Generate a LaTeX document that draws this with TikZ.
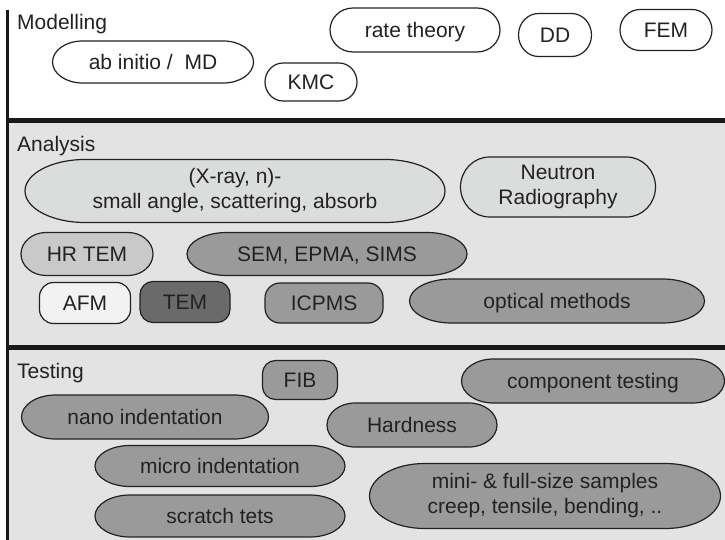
\documentclass[tikz,border=0pt]{standalone}
\usepackage{fontspec}
\setmainfont{Liberation Sans}
\begin{document}
\definecolor{ink}{HTML}{222222}
\definecolor{panel}{HTML}{E3E3E3}
\definecolor{pale}{HTML}{DBDCDC}
\definecolor{lightgrey}{HTML}{C9C9C9}
\definecolor{midgrey}{HTML}{9A9A9A}
\definecolor{darkgrey}{HTML}{6A6A6A}
\definecolor{offwhite}{HTML}{F2F2F2}
% #1 name, #2 cx, #3 cy, #4 width, #5 height, #6 end radius, #7 fill, #8 text
\newcommand{\bubble}[8]{%
  \filldraw[outline, fill=#7]
    ({#2-#4/2+#6},{#3-#5/2}) -- ({#2+#4/2-#6},{#3-#5/2})
    arc[start angle=-90, end angle=90, x radius={#6}, y radius={#5/2}]
    -- ({#2-#4/2+#6},{#3+#5/2})
    arc[start angle=90, end angle=270, x radius={#6}, y radius={#5/2}]
    -- cycle;
  \node[itemtext] (#1) at (#2,#3) {#8};}
% rounded box: #1 name, #2 cx, #3 cy, #4 width, #5 height, #6 corner, #7 fill, #8 text
\newcommand{\rbox}[8]{%
  \filldraw[outline, fill=#7, rounded corners=#6pt]
    ({#2-#4/2},{#3-#5/2}) rectangle ({#2+#4/2},{#3+#5/2});
  \node[itemtext] (#1) at (#2,#3) {#8};}
% two-line label inside a bubble
\newcommand{\bubbletwo}[8]{%
  \filldraw[outline, fill=#7]
    ({#2-#4/2+#6},{#3-#5/2}) -- ({#2+#4/2-#6},{#3-#5/2})
    arc[start angle=-90, end angle=90, x radius={#6}, y radius={#5/2}]
    -- ({#2-#4/2+#6},{#3+#5/2})
    arc[start angle=90, end angle=270, x radius={#6}, y radius={#5/2}]
    -- cycle;
  \node[twotext] (#1) at (#2,#3) {#8};}
\begin{tikzpicture}[x=1pt, y=-1pt,
  outline/.style={draw=ink, line width=1.2pt},
  itemtext/.style={text=ink, font=\fontsize{21}{25}\selectfont, inner sep=0pt,
    text height=15pt, text depth=0pt, anchor=center},
  twotext/.style={text=ink, font=\fontsize{21}{25}\selectfont, inner sep=0pt,
    align=center, anchor=center},
  heading/.style={text=ink, font=\fontsize{21}{25}\selectfont, inner sep=0pt, anchor=base west},
  divider/.style={draw=black!90, line width=5pt},
  spine/.style={draw=black!90, line width=3.5pt}]
\useasboundingbox (0,0) rectangle (725,540);
% section panels
\fill[white] (0,0) rectangle (725,121);
\fill[panel] (8,121) rectangle (725,347);
\fill[panel] (8,347) rectangle (725,540);
\draw[divider] (8,121) -- (725,121);
\draw[divider] (8,347) -- (725,347);
\draw[spine] (7.5,10) -- (7.5,540);
% section headings
\node[heading] (hmod) at (17,30) {Modelling};
\node[heading] (hana) at (17,152) {Analysis};
\node[heading] (htest) at (17,378) {Testing};
% Modelling
\bubble{abinitio}{153}{62}{201}{42}{30}{white}{ab initio /\ \ MD}
\bubble{kmc}{311}{82}{92}{38}{18}{white}{KMC}
\bubble{rate}{415}{30}{170}{44}{23}{white}{rate theory}
\bubble{dd}{555}{35}{73}{43}{20}{white}{DD}
\bubble{fem}{666}{30}{92}{41}{20}{white}{FEM}
% Analysis
\bubbletwo{xray}{235}{191}{420}{63}{60}{pale}{(X-ray, n)-\\small angle, scattering, absorb}
\bubbletwo{neutron}{558}{187}{195}{60}{29}{pale}{Neutron\\Radiography}
\bubble{hrtem}{87}{254}{132}{43}{25}{lightgrey}{HR TEM}
\bubble{sem}{327}{254}{280}{43}{40}{midgrey}{SEM, EPMA, SIMS}
\rbox{afm}{85}{303}{91}{41}{14}{offwhite}{AFM}
\rbox{tem}{185}{302}{90}{41}{13}{darkgrey}{TEM}
\rbox{icpms}{324}{303}{118}{40}{15}{midgrey}{ICPMS}
\bubble{optical}{557}{301}{295}{44}{42}{midgrey}{optical methods}
% Testing
\rbox{fib}{300}{380}{75}{39}{13}{midgrey}{FIB}
\bubble{component}{593}{381}{263}{44}{32}{midgrey}{component testing}
\bubble{nano}{145}{417}{247}{44}{34}{midgrey}{nano indentation}
\bubble{hardness}{412}{425}{170}{44}{28}{midgrey}{Hardness}
\bubble{micro}{220}{466}{250}{41}{35}{midgrey}{micro indentation}
\bubble{scratch}{220}{516}{250}{42}{35}{midgrey}{scratch tets}
\bubbletwo{samples}{545}{496}{351}{65}{55}{midgrey}{mini- \& full-size samples\\creep, tensile, bending, ..}
\end{tikzpicture}
\end{document}
